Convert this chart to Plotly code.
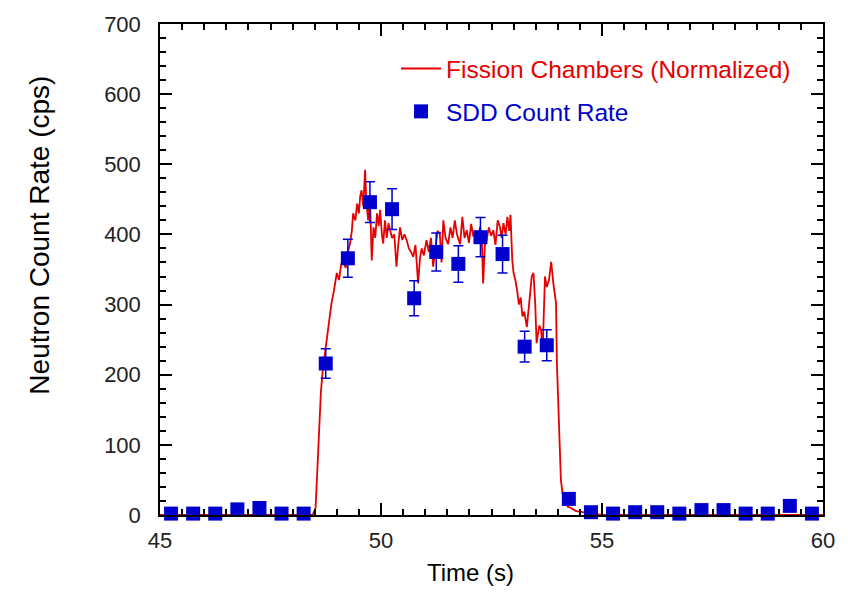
import plotly.graph_objects as go

# Fission chamber (normalized) trace
fc_time = [45.0, 48.45, 48.52, 48.56, 48.60, 48.64, 48.68, 48.72, 48.77, 48.82, 48.88, 48.93,
           49.00, 49.05, 49.10, 49.15, 49.20, 49.25, 49.30, 49.34, 49.37, 49.42, 49.46, 49.50,
           49.53, 49.56, 49.60, 49.64, 49.67, 49.71, 49.75, 49.79, 49.83, 49.87, 49.91, 49.95,
           49.98, 50.02, 50.05, 50.09, 50.13, 50.17, 50.21, 50.25, 50.30, 50.35, 50.39, 50.43,
           50.48, 50.53, 50.58, 50.63, 50.68, 50.73, 50.78, 50.84, 50.88, 50.92, 50.97, 51.03,
           51.08, 51.13, 51.18, 51.23, 51.28, 51.33, 51.37, 51.41, 51.46, 51.52, 51.57, 51.62,
           51.67, 51.72, 51.79, 51.84, 51.89, 51.94, 51.99, 52.04, 52.09, 52.14, 52.19, 52.24,
           52.28, 52.31, 52.35, 52.39, 52.44, 52.49, 52.54, 52.59, 52.64, 52.69, 52.73, 52.77,
           52.82, 52.86, 52.90, 52.93, 52.97, 53.00, 53.04, 53.08, 53.12, 53.16, 53.20, 53.24,
           53.30, 53.35, 53.41, 53.45, 53.49, 53.52, 53.58, 53.62, 53.66, 53.71, 53.75, 53.80,
           53.85, 53.90, 53.96, 53.98, 54.01, 54.04, 54.07, 54.11, 54.16, 54.22, 54.30, 54.40,
           54.55, 54.75, 55.00, 60.0]
fc_rate = [0, 0, 10, 70, 130, 175, 205, 225, 254, 275, 302, 318,
           345, 335, 358, 363, 352, 375, 387, 405, 430, 420, 444, 430,
           455, 463, 440, 492, 445, 420, 455, 363, 410, 395, 430, 412,
           435, 400, 387, 420, 395, 416, 405, 395, 400, 354, 385, 410,
           392, 400, 392, 380, 375, 368, 385, 330, 365, 380, 370, 392,
           375, 395, 354, 380, 405, 401, 360, 420, 395, 386, 410, 395,
           420, 400, 386, 425, 395, 406, 388, 415, 397, 405, 390, 411,
           395, 330, 385, 392, 410, 398, 406, 385, 420, 411, 395, 416,
           400, 425, 405, 428, 363, 345, 335, 320, 300, 310, 283, 290,
           268, 300, 340, 345, 300, 245, 270, 264, 240, 340, 325, 335,
           361, 330, 302, 216, 150, 90, 50, 30, 18, 12, 10, 6,
           4, 2, 0, 0]

# SDD count rate points with error bars
sdd_time = [45.25, 45.75, 46.25, 46.75, 47.25, 47.75, 48.25, 48.75, 49.25, 49.75,
            50.25, 50.75, 51.25, 51.75, 52.25, 52.75, 53.25, 53.75, 54.25, 54.75,
            55.25, 55.75, 56.25, 56.75, 57.25, 57.75, 58.25, 58.75, 59.25, 59.75]
sdd_rate = [2, 2, 2, 8, 10, 2, 2, 216, 366, 446,
            436, 309, 375, 358, 396, 372, 240, 242, 23, 4,
            2, 4, 4, 2, 7, 7, 2, 2, 13, 2]
sdd_err = [3, 3, 3, 5, 5, 3, 3, 21, 27, 29,
           29, 25, 27, 26, 28, 27, 22, 22, 8, 3,
           3, 3, 3, 3, 4, 4, 3, 3, 6, 3]

x_ticks = [45, 50, 55, 60]
y_ticks = [0, 100, 200, 300, 400, 500, 600, 700]

RED = "rgb(230,0,0)"
BLUE = "rgb(0,0,205)"
FONT = "Liberation Sans, Arial, sans-serif"

fig = go.Figure()
fig.add_trace(go.Scatter(
    x=fc_time, y=fc_rate, mode="lines",
    line=dict(color=RED, width=1.8),
    name="<span style='color:rgb(230,0,0)'>Fission Chambers (Normalized)</span>",
    legendgroup="a", cliponaxis=False,
))
fig.add_trace(go.Scatter(
    x=sdd_time, y=sdd_rate, mode="markers",
    marker=dict(symbol="square", size=14, color=BLUE, line=dict(width=0)),
    error_y=dict(type="data", array=sdd_err, color=BLUE, thickness=1.5, width=5),
    name="<span style='color:rgb(0,0,205)'>SDD Count Rate</span>",
    legendgroup="b", cliponaxis=False,
))

axis_common = dict(
    showline=True, linecolor="black", linewidth=1.5, mirror="ticks",
    ticks="inside", ticklen=12, tickwidth=1.5, tickcolor="black",
    showgrid=False, zeroline=False,
    tickfont=dict(family=FONT, size=22, color="#222"),
)

fig.update_layout(
    width=848, height=592,
    margin=dict(l=160, r=25, t=24, b=77),
    paper_bgcolor="white", plot_bgcolor="white",
    font=dict(family=FONT),
    xaxis=dict(range=[45, 60], tickvals=x_ticks, ticklabelstandoff=5,
               minor=dict(dtick=0.5, ticks="inside", ticklen=6, tickwidth=1.5, tickcolor="black"),
               **axis_common),
    yaxis=dict(range=[0, 700], tickvals=y_ticks, ticklabelstandoff=13,
               minor=dict(dtick=20, ticks="inside", ticklen=6, tickwidth=1.5, tickcolor="black"),
               **axis_common),
    legend=dict(x=0.356, y=0.955, xanchor="left", yanchor="top",
                bgcolor="rgba(0,0,0,0)", font=dict(family=FONT, size=24.5),
                traceorder="grouped", tracegroupgap=8, itemwidth=40),
    showlegend=True,
    annotations=[
        dict(text="Time (s)", xref="paper", yref="paper", x=0.4676, y=-0.118,
             xanchor="center", yanchor="middle", showarrow=False,
             font=dict(family=FONT, size=24, color="black")),
        dict(text="Neutron Count Rate (cps)", xref="paper", yref="paper", x=-0.181, y=0.571,
             xanchor="center", yanchor="middle", showarrow=False, textangle=-90,
             font=dict(family=FONT, size=28, color="black")),
    ],
)

fig.write_html("out.html")
